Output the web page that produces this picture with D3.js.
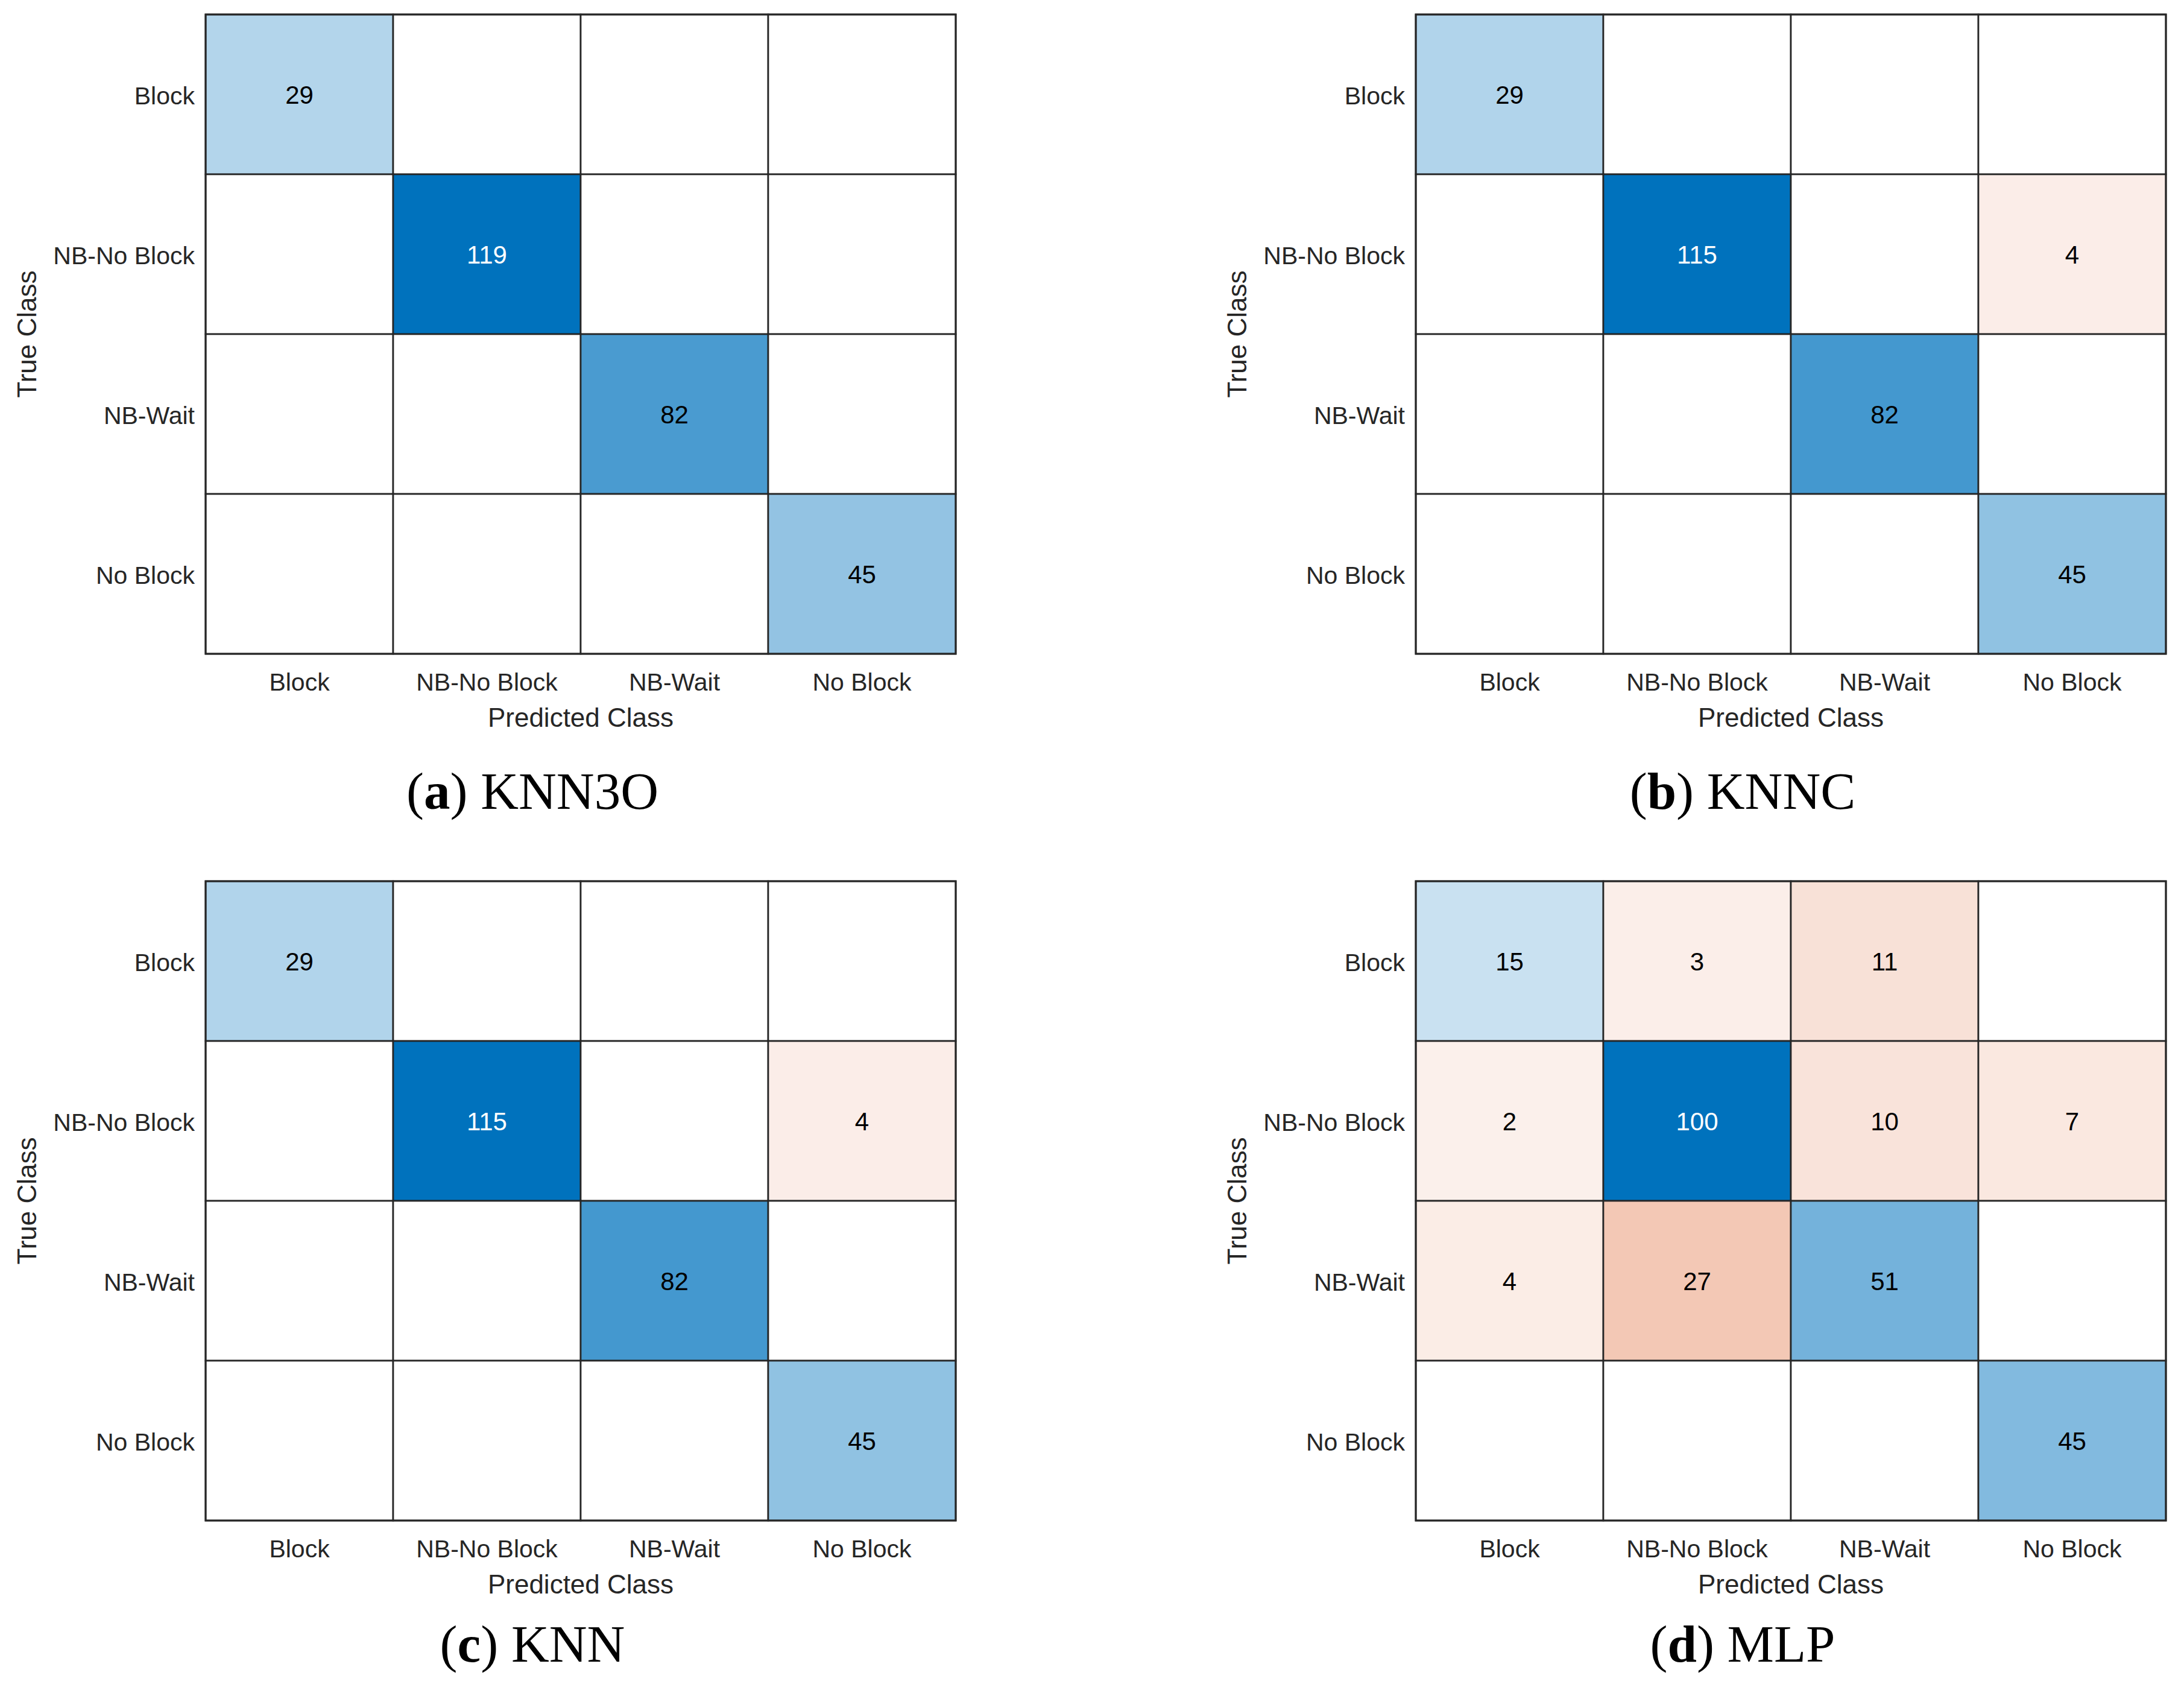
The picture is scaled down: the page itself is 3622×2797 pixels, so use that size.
<!DOCTYPE html>
<html>
<head>
<meta charset="utf-8">
<script src="https://cdn.jsdelivr.net/npm/d3@7/dist/d3.min.js"></script>
<style>
  html, body { margin: 0; padding: 0; background: #fff; }
  svg { display: block; }
</style>
</head>
<body>
<script>
// ---- data ----
const classes = ["Block", "NB-No Block", "NB-Wait", "No Block"];
const knn3o = [[29, 0, 0, 0], [0, 119, 0, 0], [0, 0, 82, 0], [0, 0, 0, 45]];
const knnc  = [[29, 0, 0, 0], [0, 115, 0, 4], [0, 0, 82, 0], [0, 0, 0, 45]];
const knn   = [[29, 0, 0, 0], [0, 115, 0, 4], [0, 0, 82, 0], [0, 0, 0, 45]];
const mlp   = [[15, 3, 11, 0], [2, 100, 10, 7], [4, 27, 51, 0], [0, 0, 0, 45]];
const captionLetters = ["a", "b", "c", "d"];
const captionNames = ["KNN3O", "KNNC", "KNN", "MLP"];
const matrices = [knn3o, knnc, knn, mlp];

// ---- layout ----
const W = 3622, H = 2797;
const cellW = 311, cellH = 265;
const panels = [
  { left: 341, top: 24, capDy: 257 },
  { left: 2348, top: 24, capDy: 257 },
  { left: 341, top: 1461, capDy: 234 },
  { left: 2348, top: 1461, capDy: 234 }
];
const gridColor = "#262626";
const textColor = "#262626";
const sans = "'Liberation Sans', Arial, Helvetica, sans-serif";
const serif = "'Liberation Serif', 'Times New Roman', serif";
const diagColor = "#0072BD", offColor = "#D95319";

const svg = d3.select("body").append("svg")
  .attr("width", W).attr("height", H)
  .attr("viewBox", `0 0 ${W} ${H}`);
svg.append("rect").attr("width", W).attr("height", H).attr("fill", "#fff");

matrices.forEach((m, pi) => {
  const p = panels[pi];
  const gw = cellW * classes.length, gh = cellH * classes.length;
  const g = svg.append("g").attr("transform", `translate(${p.left},${p.top})`);

  const x = d3.scaleBand().domain(classes).range([0, gw]).padding(0);
  const y = d3.scaleBand().domain(classes).range([0, gh]).padding(0);
  const maxV = d3.max(m.flat());
  const blue = d3.scaleLinear().domain([0, maxV])
    .range([d3.interpolateRgb("#ffffff", diagColor)(0.07), diagColor]).interpolate(d3.interpolateRgb);
  const red = d3.scaleLinear().domain([0, maxV])
    .range([d3.interpolateRgb("#ffffff", offColor)(0.07), offColor]).interpolate(d3.interpolateRgb);

  const cells = [];
  m.forEach((row, i) => row.forEach((v, j) => cells.push({ t: classes[i], p: classes[j], v, diag: i === j })));
  const fillOf = d => d.v === 0 ? "#ffffff" : (d.diag ? blue(d.v) : red(d.v));

  g.selectAll("rect.cell").data(cells).join("rect")
    .attr("class", "cell")
    .attr("x", d => x(d.p)).attr("y", d => y(d.t))
    .attr("width", x.bandwidth()).attr("height", y.bandwidth())
    .attr("fill", fillOf)
    .attr("stroke", gridColor).attr("stroke-width", 2.7);

  g.append("rect").attr("x", 0).attr("y", 0).attr("width", gw).attr("height", gh)
    .attr("fill", "none").attr("stroke", gridColor).attr("stroke-width", 3);

  g.selectAll("text.val").data(cells.filter(d => d.v > 0)).join("text")
    .attr("class", "val")
    .attr("x", d => x(d.p) + x.bandwidth() / 2)
    .attr("y", d => y(d.t) + y.bandwidth() / 2 + 15)
    .attr("text-anchor", "middle")
    .attr("font-family", sans).attr("font-size", 42)
    .attr("fill", d => d3.hsl(fillOf(d)).l < 0.45 ? "#ffffff" : "#000000")
    .text(d => d.v);

  // x axis
  const xa = g.append("g").attr("transform", `translate(0,${gh})`)
    .call(d3.axisBottom(x).tickSize(0).tickSizeOuter(0));
  xa.select(".domain").remove();
  xa.selectAll("text").attr("y", 61).attr("dy", null)
    .attr("font-family", sans).attr("font-size", 41).attr("fill", textColor);

  // y axis
  const ya = g.append("g").call(d3.axisLeft(y).tickSize(0).tickSizeOuter(0));
  ya.select(".domain").remove();
  ya.selectAll("text").attr("x", -18).attr("y", 16).attr("dy", null)
    .attr("font-family", sans).attr("font-size", 41).attr("fill", textColor);

  // axis titles
  g.append("text").attr("x", gw / 2).attr("y", gh + 121)
    .attr("text-anchor", "middle").attr("font-family", sans).attr("font-size", 44)
    .attr("fill", textColor).text("Predicted Class");
  g.append("text")
    .attr("transform", `translate(${-281},${gh / 2}) rotate(-90)`)
    .attr("text-anchor", "middle").attr("font-family", sans).attr("font-size", 44)
    .attr("fill", textColor).text("True Class");

  // caption
  const cap = g.append("text").attr("x", gw / 2 - 80).attr("y", gh + p.capDy)
    .attr("text-anchor", "middle").attr("font-family", serif).attr("font-size", 87)
    .attr("fill", "#000");
  cap.append("tspan").text("(");
  cap.append("tspan").attr("font-weight", "bold").text(captionLetters[pi]);
  cap.append("tspan").text(") " + captionNames[pi]);
});
</script>
</body>
</html>
